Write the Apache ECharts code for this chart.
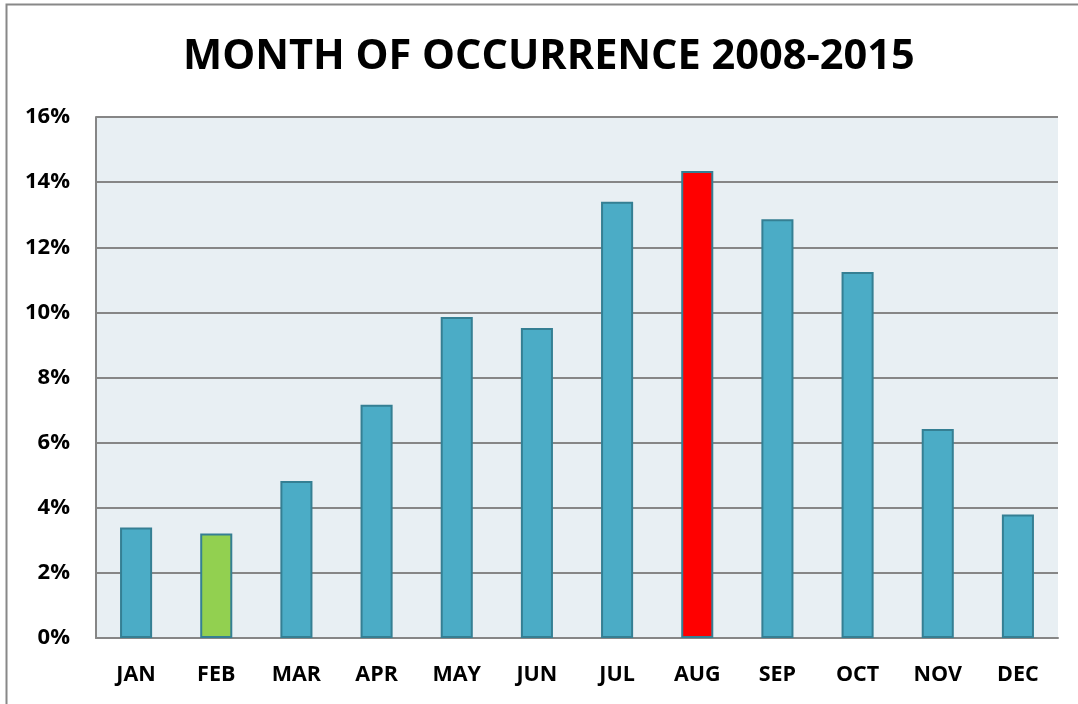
<!DOCTYPE html>
<html><head><meta charset="utf-8">
<script src="https://cdn.jsdelivr.net/npm/echarts@6/dist/echarts.min.js"></script>
<style>html,body{margin:0;padding:0;background:#fff}#c{width:1078px;height:704px}</style>
</head><body><div id="c"></div>
<script>
const categories = ['JAN','FEB','MAR','APR','MAY','JUN','JUL','AUG','SEP','OCT','NOV','DEC'];
const values = [3.39, 3.21, 4.82, 7.16, 9.86, 9.52, 13.4, 14.34, 12.86, 11.24, 6.42, 3.79];
const barColors = ['#4BACC6','#92D050','#4BACC6','#4BACC6','#4BACC6','#4BACC6','#4BACC6','#FF0000','#4BACC6','#4BACC6','#4BACC6','#4BACC6'];
const titleText = 'MONTH OF OCCURRENCE 2008-2015';
const font = 'Open Sans, Lato, sans-serif';

const chart = echarts.init(document.getElementById('c'));
chart.setOption({
  animation: false,
  backgroundColor: '#fff',
  title: { text: titleText, left: 178, top: 31,
    textStyle: { fontFamily: font, fontWeight: 'bold', fontSize: 41.5, color: '#000' } },
  grid: { left: 96, right: 20, top: 117, bottom: 66, show: true, backgroundColor: '#E8EFF3', borderColor: '#868686', borderWidth: 0 },
  graphic: [
    { type: 'polyline', shape: { points: [[6.5, 704], [6.5, 4.5], [1078, 4.5]] }, style: { stroke: '#888', lineWidth: 2, fill: null } }
  ],
  xAxis: { type: 'category', data: categories,
    axisLine: { lineStyle: { color: '#868686', width: 2 } }, axisTick: { show: false },
    axisLabel: { fontFamily: font, fontWeight: 'bold', fontSize: 21.5, color: '#000', margin: 26 } },
  yAxis: { type: 'value', min: 0, max: 16, interval: 2,
    axisLine: { show: true, lineStyle: { color: '#868686', width: 2 } }, axisTick: { show: false },
    splitLine: { lineStyle: { color: '#868686', width: 2 } },
    axisLabel: { fontFamily: font, fontWeight: 'bold', fontSize: 22, color: '#000', margin: 26, formatter: v => v + '%' } },
  series: [{ type: 'bar', barWidth: '40%',
    data: values.map((v, i) => ({ value: v, itemStyle: { color: barColors[i] } })),
    itemStyle: { borderColor: '#357F93', borderWidth: 2 } }]
});
</script></body></html>
